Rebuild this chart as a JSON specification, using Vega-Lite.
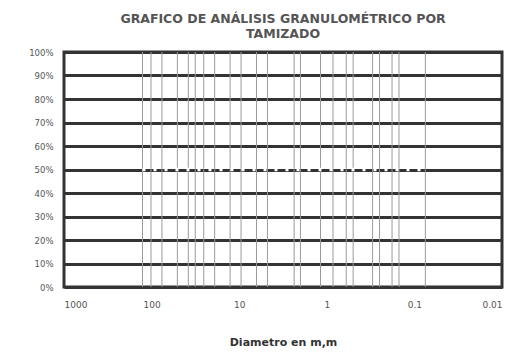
{
  "$schema": "https://vega.github.io/schema/vega-lite/v6.json",
  "autosize": {"type": "none"},
  "width": 438,
  "height": 235,
  "padding": {"left": 64, "top": 52, "right": 22, "bottom": 66},
  "background": "white",
  "title": {
    "text": ["GRAFICO DE ANÁLISIS  GRANULOMÉTRICO POR", "TAMIZADO"],
    "anchor": "middle",
    "font": "DejaVu Sans",
    "fontSize": 12.5,
    "fontWeight": "bold",
    "color": "#555",
    "lineHeight": 15,
    "offset": 8
  },
  "config": {
    "view": {"stroke": "#333", "strokeWidth": 3},
    "axis": {"labelFont": "DejaVu Sans", "titleFont": "DejaVu Sans", "labelColor": "#555", "titleColor": "#333"}
  },
  "datasets": {
    "tamices": [
      {"d": 127}, {"d": 101.6}, {"d": 76.2}, {"d": 50.8}, {"d": 38.1}, {"d": 31.75},
      {"d": 25.4}, {"d": 19.05}, {"d": 12.7}, {"d": 9.525}, {"d": 6.35}, {"d": 4.76},
      {"d": 2.36}, {"d": 2.0}, {"d": 1.18}, {"d": 0.85}, {"d": 0.6}, {"d": 0.5},
      {"d": 0.3}, {"d": 0.25}, {"d": 0.18}, {"d": 0.15}, {"d": 0.075}
    ],
    "curva": [
      {"d": 127, "p": 50}, {"d": 76.2, "p": 50}, {"d": 25.4, "p": 50}, {"d": 9.525, "p": 50},
      {"d": 4.76, "p": 50}, {"d": 2.0, "p": 50}, {"d": 0.6, "p": 50}, {"d": 0.3, "p": 50},
      {"d": 0.15, "p": 50}, {"d": 0.075, "p": 50}
    ]
  },
  "encoding": {
    "x": {
      "field": "d", "type": "quantitative",
      "scale": {"type": "log", "domain": [0.01, 1000], "reverse": true, "nice": false},
      "axis": {
        "values": [1000, 100, 10, 1, 0.1, 0.01],
        "labelExpr": "datum.value >= 1 ? format(datum.value, 'd') : format(datum.value, '.2~f')",
        "grid": false, "ticks": false, "domain": false,
        "labelFontSize": 9, "labelPadding": 13, "labelOverlap": false,
        "title": "Diametro en m,m", "titleFontSize": 11, "titleFontWeight": "bold", "titlePadding": 27
      }
    }
  },
  "layer": [
    {
      "data": {"name": "tamices"},
      "mark": {"type": "rule", "color": "#9a9a9a", "strokeWidth": 1},
      "encoding": {}
    },
    {
      "data": {"name": "curva"},
      "mark": {"type": "line", "color": "white", "strokeWidth": 3.5, "strokeDash": [3, 8]},
      "encoding": {
        "y": {
          "field": "p", "type": "quantitative",
          "scale": {"domain": [0, 100], "nice": false},
          "axis": {
            "values": [0, 10, 20, 30, 40, 50, 60, 70, 80, 90, 100],
            "labelExpr": "datum.value + '%'",
            "grid": true, "gridColor": "#333", "gridWidth": 3,
            "ticks": false, "domain": false, "labelOverlap": false,
            "labelFontSize": 8.5, "labelPadding": 11, "title": null
          }
        }
      }
    }
  ]
}
